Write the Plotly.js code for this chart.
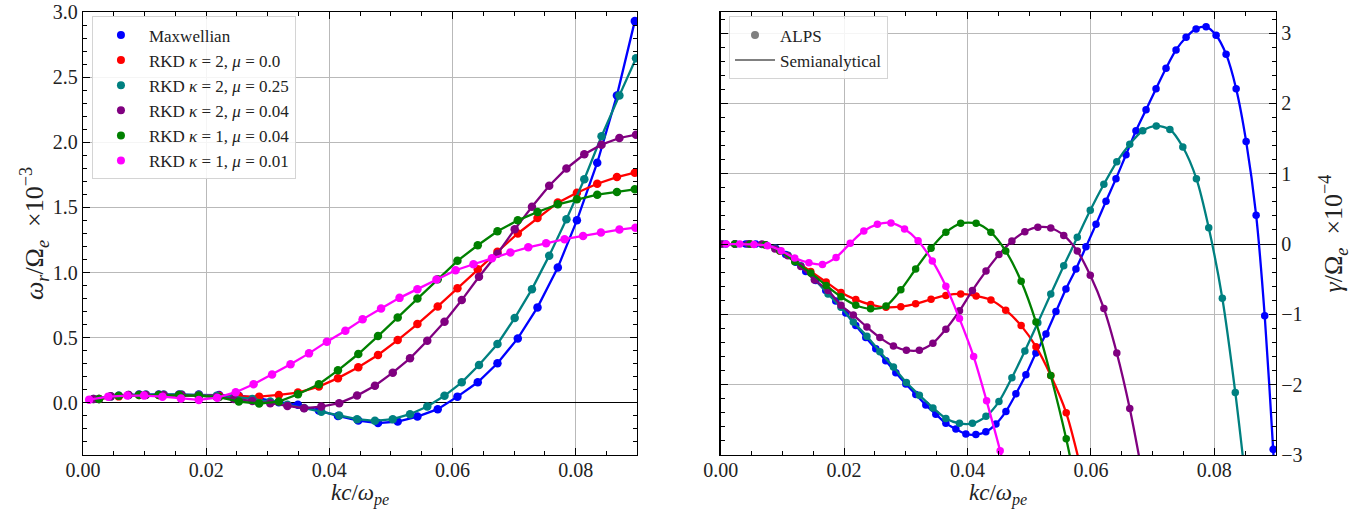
<!DOCTYPE html>
<html>
<head>
<meta charset="utf-8">
<script src="https://cdn.plot.ly/plotly-3.0.1.min.js"></script>
<style>html,body{margin:0;padding:0;background:#fff;}#chart{width:1353px;height:511px;}</style>
</head>
<body>
<div id="chart"></div>
<script>
// ---------- Left panel: real frequency (x 1e-3) ----------
const kL_a = [0.0026,0.0058,0.0091,0.0123,0.0156,0.0188,0.0221,0.0253,0.0286,0.0318,0.0349,0.0383,0.0414,0.0447,0.0479,0.0511,0.0543,0.0576,0.0608,0.0641,0.0673,0.0706,0.0738,0.0771,0.0802,0.0835,0.0867,0.0896];
const kL_b = [0.0017,0.0045,0.0074,0.0102,0.0131,0.0160,0.0188,0.0217,0.0245,0.0275,0.0304,0.0332,0.0359,0.0387,0.0416,0.0445,0.0474,0.0503,0.0531,0.0559,0.0587,0.0615,0.0643,0.0673,0.0701,0.0729,0.0757,0.0785,0.0814,0.0842,0.0871,0.0898];
const kL_c = [0.0010,0.0041,0.0072,0.0099,0.0129,0.0159,0.0188,0.0218,0.0248,0.0277,0.0307,0.0337,0.0367,0.0396,0.0426,0.0454,0.0484,0.0514,0.0543,0.0574,0.0605,0.0634,0.0664,0.0694,0.0723,0.0752,0.0782,0.0812,0.0841,0.0871,0.0897];

const wr_maxw   = [0.03,0.055,0.065,0.065,0.065,0.065,0.06,0.055,0.035,0.005,-0.015,-0.059,-0.1,-0.136,-0.155,-0.143,-0.105,-0.048,0.048,0.158,0.304,0.495,0.733,1.039,1.401,1.843,2.36,2.93];
const wr_k2mu0  = [0.03,0.05,0.06,0.06,0.06,0.06,0.055,0.05,0.048,0.061,0.079,0.125,0.19,0.273,0.368,0.482,0.605,0.74,0.88,1.026,1.16,1.3,1.419,1.537,1.613,1.682,1.733,1.767];
const wr_k2mu25 = [0.03,0.05,0.06,0.065,0.065,0.065,0.06,0.055,0.045,0.03,0.01,-0.015,-0.04,-0.068,-0.097,-0.125,-0.138,-0.125,-0.087,-0.028,0.054,0.158,0.291,0.452,0.651,0.873,1.13,1.41,1.716,2.047,2.36,2.645];
const wr_k2mu04 = [0.03,0.05,0.06,0.06,0.06,0.06,0.055,0.045,0.03,0.015,-0.002,-0.023,-0.041,-0.028,-0.002,0.056,0.132,0.232,0.342,0.477,0.623,0.789,0.968,1.145,1.332,1.505,1.666,1.799,1.908,1.982,2.033,2.058];
const wr_k1mu04 = [0.03,0.055,0.06,0.06,0.06,0.055,0.045,0.01,-0.005,0.01,0.066,0.143,0.25,0.375,0.513,0.656,0.802,0.949,1.09,1.21,1.317,1.401,1.465,1.524,1.562,1.598,1.619,1.639];
const wr_k1mu01 = [0.025,0.048,0.056,0.056,0.048,0.033,0.023,0.04,0.082,0.143,0.217,0.296,0.38,0.47,0.554,0.641,0.725,0.806,0.873,0.947,1.018,1.064,1.11,1.154,1.194,1.225,1.256,1.281,1.307,1.33,1.345];

// ---------- Right panel: growth rate (x 1e-4) ----------
const kR_maxw = [0.00081,0.00243,0.00406,0.00568,0.0073,0.00892,0.01054,0.01217,0.01379,0.01541,0.01703,0.01865,0.02028,0.0219,0.02352,0.02514,0.02676,0.02839,0.03001,0.03163,0.03325,0.03487,0.0365,0.03812,0.03974,0.04136,0.04298,0.04461,0.04623,0.04785,0.04947,0.05109,0.05272,0.05434,0.05596,0.05758,0.0592,0.06083,0.06245,0.06407,0.06569,0.06731,0.06894,0.07056,0.07218,0.0738,0.07543,0.07705,0.07867,0.08029,0.08191,0.08354,0.08516,0.08678,0.08817,0.08954,0.09088];
const kR_gr   = [0.0023,0.0048,0.0072,0.0096,0.0120,0.0146,0.0171,0.0195,0.0219,0.0243,0.0268,0.0292,0.0316,0.0341,0.0365,0.0389,0.0414,0.0438,0.0462,0.0487,0.0511,0.0535,0.0560,0.0584];
const kR_pu   = [0.0002,0.0023,0.0045,0.0067,0.0088,0.0109,0.0130,0.0152,0.0174,0.0195,0.0215,0.0237,0.0258,0.0280,0.0301,0.0322,0.0344,0.0365,0.0387,0.0408,0.0430,0.0451,0.0472,0.0493,0.0514,0.0535,0.0556,0.0578,0.0599,0.0621,0.0642,0.0663,0.0684];
const kR_te   = [0.0002,0.0023,0.0045,0.0067,0.0088,0.0109,0.0130,0.0152,0.0174,0.0195,0.0215,0.0237,0.0258,0.0280,0.0301,0.0322,0.0344,0.0365,0.0387,0.0408,0.0430,0.0451,0.0472,0.0493,0.0514,0.0535,0.0556,0.0578,0.0599,0.0621,0.0642,0.0663,0.0684,0.0706,0.0728,0.0749,0.0771,0.0791,0.0813,0.0834,0.0855];
const kR_ma   = [0.0009,0.0031,0.0054,0.0076,0.0098,0.0120,0.0143,0.0165,0.0187,0.0210,0.0232,0.0254,0.0276,0.0298,0.0320,0.0343,0.0365,0.0387,0.0410,0.0431,0.0453,0.0475];

const g_maxw   = [0,0,0,0,-0.01,-0.06,-0.15,-0.26,-0.39,-0.52,-0.66,-0.81,-0.98,-1.16,-1.33,-1.49,-1.66,-1.83,-1.99,-2.14,-2.29,-2.42,-2.55,-2.63,-2.70,-2.71,-2.67,-2.56,-2.38,-2.13,-1.86,-1.55,-1.28,-0.96,-0.64,-0.355,-0.04,0.28,0.61,0.93,1.27,1.61,1.91,2.21,2.5,2.76,2.94,3.06,3.09,2.97,2.7,2.21,1.46,0.41,-1.02,-2.92,-5.0];
const g_k2mu0  = [0,0,-0.01,-0.1,-0.23,-0.39,-0.54,-0.69,-0.79,-0.86,-0.9,-0.89,-0.85,-0.785,-0.73,-0.71,-0.74,-0.795,-0.94,-1.16,-1.46,-1.87,-2.4,-3.2];
const g_k2mu25 = [0,0,0,-0.005,-0.06,-0.16,-0.31,-0.5,-0.71,-0.9,-1.11,-1.31,-1.53,-1.75,-1.97,-2.15,-2.33,-2.48,-2.55,-2.55,-2.45,-2.24,-1.9,-1.52,-1.12,-0.71,-0.31,0.095,0.48,0.85,1.17,1.42,1.61,1.68,1.63,1.38,0.93,0.23,-0.77,-2.11,-3.7];
const g_k2mu04 = [0,0,0,0,-0.07,-0.166,-0.32,-0.51,-0.66,-0.87,-1.01,-1.18,-1.33,-1.45,-1.51,-1.51,-1.41,-1.21,-0.95,-0.66,-0.385,-0.15,0.043,0.175,0.24,0.228,0.123,-0.1,-0.445,-0.915,-1.55,-2.34,-3.3];
const g_k1mu04 = [0,0,-0.01,-0.1,-0.25,-0.41,-0.59,-0.75,-0.87,-0.92,-0.88,-0.65,-0.355,-0.06,0.166,0.294,0.294,0.166,-0.1,-0.53,-1.11,-1.87,-2.77,-3.8];
const g_k1mu01 = [0,0,-0.005,-0.024,-0.095,-0.2,-0.265,-0.29,-0.19,0.01,0.185,0.28,0.3,0.213,0.047,-0.24,-0.6,-1.06,-1.6,-2.23,-2.94,-3.7];

const names  = ['Maxwellian','RKD <i>κ</i> = 2, <i>μ</i> = 0.0','RKD <i>κ</i> = 2, <i>μ</i> = 0.25','RKD <i>κ</i> = 2, <i>μ</i> = 0.04','RKD <i>κ</i> = 1, <i>μ</i> = 0.04','RKD <i>κ</i> = 1, <i>μ</i> = 0.01'];
const colors = ['#0000ff','#ff0000','#008080','#800080','#008000','#ff00ff'];
const xTitle = '<i>kc</i>/<i>ω</i><sub><i>pe</i></sub>';

const leftX = [kL_a,kL_a,kL_b,kL_b,kL_a,kL_c];
const leftY = [wr_maxw,wr_k2mu0,wr_k2mu25,wr_k2mu04,wr_k1mu04,wr_k1mu01];
const rightX = [kR_maxw,kR_gr,kR_te,kR_pu,kR_gr,kR_ma];
const rightY = [g_maxw,g_k2mu0,g_k2mu25,g_k2mu04,g_k1mu04,g_k1mu01];

const traces = [];
for (let i=0;i<6;i++){
  traces.push({x:leftX[i], y:leftY[i], xaxis:'x', yaxis:'y', mode:'lines+markers', type:'scatter',
    line:{color:colors[i], width:2.3}, marker:{color:colors[i], size:8.5}, showlegend:false, hoverinfo:'skip'});
}
for (let i=0;i<6;i++){
  traces.push({x:rightX[i], y:rightY[i], xaxis:'x2', yaxis:'y2', mode:'lines+markers', type:'scatter',
    line:{color:colors[i], width:2.3, shape:'spline', smoothing:0.8}, marker:{color:colors[i], size:7.5}, showlegend:false, hoverinfo:'skip'});
}
// legend entries (no data)
for (let i=0;i<6;i++){
  traces.push({x:[null], y:[null], xaxis:'x', yaxis:'y', mode:'markers', type:'scatter', name:names[i],
    marker:{color:colors[i], size:8}, legend:'legend', showlegend:true});
}
traces.push({x:[null], y:[null], xaxis:'x2', yaxis:'y2', mode:'markers', type:'scatter', name:'ALPS',
  marker:{color:'#808080', size:8}, legend:'legend2', showlegend:true});
traces.push({x:[null], y:[null], xaxis:'x2', yaxis:'y2', mode:'lines', type:'scatter', name:'Semianalytical',
  line:{color:'#808080', width:2}, legend:'legend2', showlegend:true});

const FONT = 'Liberation Serif, DejaVu Serif, serif';
const common = {ticks:'inside', ticklen:7, tickwidth:1, tickcolor:'#000', showline:true, linecolor:'#000', linewidth:1.2,
  mirror:'allticks', showgrid:true, gridcolor:'#b9b9b9', gridwidth:1, tickfont:{family:FONT, size:20, color:'#222'}, automargin:false};

const xt = {...common, range:[0,0.09], tickvals:[0,0.02,0.04,0.06,0.08], ticktext:['0.00','0.02','0.04','0.06','0.08'],
  ticklabelstandoff:-3,
  minor:{dtick:0.005, tick0:0, ticks:'inside', ticklen:4, tickcolor:'#000', showgrid:false}, zeroline:false};

const layout = {
  width:1353, height:511, margin:{l:83, r:77, t:12, b:56}, paper_bgcolor:'#fff', plot_bgcolor:'#fff',
  font:{family:FONT, color:'#222'},
  xaxis:{...xt, domain:[0,0.4646], anchor:'y'},
  xaxis2:{...xt, domain:[0.5345,1], anchor:'y2'},
  yaxis:{...common, range:[-0.4,3.0], tickvals:[0,0.5,1,1.5,2,2.5,3], ticktext:['0.0','0.5','1.0','1.5','2.0','2.5','3.0'],
    minor:{dtick:0.1, tick0:0, ticks:'inside', ticklen:4, tickcolor:'#000', showgrid:false},
    zeroline:true, zerolinecolor:'#000', zerolinewidth:1, anchor:'x',
    title:{text:'<i>ω</i><sub><i>r</i></sub>/Ω<sub><i>e</i></sub>&nbsp; ×10<sup>−3</sup>', font:{family:FONT, size:26, color:'#222'}, standoff:0}},
  yaxis2:{...common, range:[-3,3.3], tickvals:[-3,-2,-1,0,1,2,3], side:'right',
    minor:{dtick:0.2, tick0:0, ticks:'inside', ticklen:4, tickcolor:'#000', showgrid:false},
    zeroline:true, zerolinecolor:'#000', zerolinewidth:1, anchor:'x2',
    title:{text:'<i>γ</i>/Ω<sub><i>e</i></sub>&nbsp; ×10<sup>−4</sup>', font:{family:FONT, size:26, color:'#222'}, standoff:22}},
  legend:{x:0.0075, y:0.99, xanchor:'left', yanchor:'top', bgcolor:'rgba(255,255,255,0.85)', bordercolor:'#d4d4d4', borderwidth:1,
    font:{family:FONT, size:17, color:'#222'}, itemwidth:46, tracegroupgap:0},
  legend2:{x:0.5415, y:0.99, xanchor:'left', yanchor:'top', bgcolor:'rgba(255,255,255,0.85)', bordercolor:'#d4d4d4', borderwidth:1,
    font:{family:FONT, size:17, color:'#222'}, itemwidth:40, tracegroupgap:0},
  annotations:[
    {text:xTitle, xref:'x domain', yref:'paper', x:0.5, y:-0.1235, xanchor:'center', yanchor:'bottom', showarrow:false, borderpad:0,
     font:{family:FONT, size:23, color:'#222'}},
    {text:xTitle, xref:'x2 domain', yref:'paper', x:0.5, y:-0.1235, xanchor:'center', yanchor:'bottom', showarrow:false, borderpad:0,
     font:{family:FONT, size:23, color:'#222'}}
  ],
  showlegend:true
};

Plotly.newPlot('chart', traces, layout, {staticPlot:true, displayModeBar:false});
</script>
</body>
</html>
